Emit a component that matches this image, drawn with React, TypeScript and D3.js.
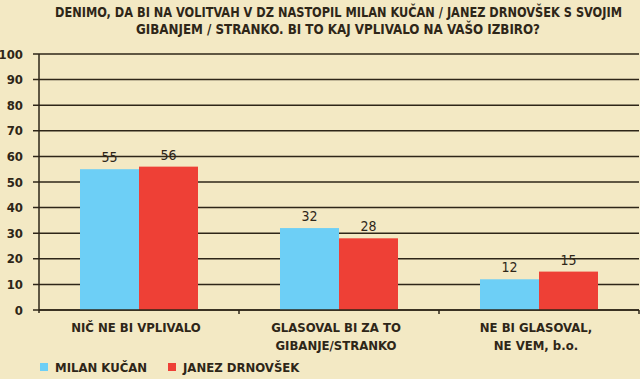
import React from "react";
import * as d3 from "d3";

const title1 = "DENIMO, DA BI NA VOLITVAH V DZ NASTOPIL MILAN KUČAN / JANEZ DRNOVŠEK S SVOJIM";
const title2 = "GIBANJEM / STRANKO. BI TO KAJ VPLIVALO NA VAŠO IZBIRO?";
const categories = ["c1", "c2", "c3"];
const categoryLabels = [["NIČ NE BI VPLIVALO"], ["GLASOVAL BI ZA TO", "GIBANJE/STRANKO"], ["NE BI GLASOVAL,", "NE VEM, b.o."]];
const seriesNames = ["MILAN KUČAN", "JANEZ DRNOVŠEK"];
const kucan = [55, 32, 12];
const drnovsek = [56, 28, 15];
const yTicks = [0, 10, 20, 30, 40, 50, 60, 70, 80, 90, 100];
const colors = ["#6dcff6", "#ee4036"];

const W = 640, H = 379;
const left = 39, right = 639, top = 54, bottom = 310;
const FONT = "'DejaVu Sans Condensed', 'DejaVu Sans', sans-serif";
const INK = "#2e2618";
const SX = 0.9;

export default function App() {
  const x = d3.scaleBand<string>().domain(categories).range([left, right]).paddingInner(0).paddingOuter(0);
  const y = d3.scaleLinear().domain([0, 100]).range([bottom, top]);
  const inner = d3.scaleBand<number>().domain([0, 1]).range([0, 118]);
  const series = [kucan, drnovsek];
  return (
    <svg width={W} height={H} style={{ position: "absolute", left: 0, top: 0, display: "block" }}>
      <rect width={W} height={H} fill="#f3e9c4" />
      <g transform={`translate(338.5,17) scale(${SX},1)`}>
        <text x={0} y={0} textAnchor="middle" textLength={567 / SX} lengthAdjust="spacingAndGlyphs" fontFamily={FONT} fontWeight="bold" fontSize={14} fill={INK}>{title1}</text>
      </g>
      <g transform={`translate(338,34) scale(${SX},1)`}>
        <text x={0} y={0} textAnchor="middle" textLength={404 / SX} lengthAdjust="spacingAndGlyphs" fontFamily={FONT} fontWeight="bold" fontSize={14} fill={INK}>{title2}</text>
      </g>
      {yTicks.map((t) => (
        <g key={t}>
          <line x1={33} x2={right} y1={y(t)} y2={y(t)} stroke={INK} strokeWidth={1.5} />
          <text x={23} y={y(t) + 4.5} textAnchor="end" fontFamily={FONT} fontWeight="bold" fontSize={13} fill={INK}>{t}</text>
        </g>
      ))}
      {categories.map((c, i) => {
        const bx = (x(c) as number) + (x.bandwidth() - 118) / 2;
        return (
          <g key={c}>
            {series.map((s, j) => (
              <g key={j}>
                <rect x={bx + (inner(j) as number)} y={y(s[i])} width={inner.bandwidth()} height={bottom - y(s[i])} fill={colors[j]} />
                <text x={bx + (inner(j) as number) + inner.bandwidth() / 2} y={y(s[i]) - 7} textAnchor="middle" fontFamily={FONT} fontSize={14} fill={INK}>{s[i]}</text>
              </g>
            ))}
            {categoryLabels[i].map((l, k) => (
              <text key={k} x={(x(c) as number) + x.bandwidth() / 2 - 3} y={332 + k * 18} textAnchor="middle" fontFamily={FONT} fontWeight="bold" fontSize={13} fill={INK}>{l}</text>
            ))}
          </g>
        );
      })}
      <line x1={left} x2={right} y1={bottom} y2={bottom} stroke={INK} strokeWidth={1.5} />
      <line x1={left} x2={left} y1={top} y2={bottom + 3} stroke={INK} strokeWidth={1.5} />
      {[1, 2, 3].map((k) => (
        <line key={k} x1={left + k * 200} x2={left + k * 200} y1={bottom} y2={bottom + 4} stroke={INK} strokeWidth={1.5} />
      ))}
      {seriesNames.map((n, j) => (
        <g key={n} transform={`translate(${j === 0 ? 40 : 168},363)`}>
          <rect x={0} y={0} width={8} height={8} fill={colors[j]} />
          <text x={15} y={9} fontFamily={FONT} fontWeight="bold" fontSize={13} fill={INK}>{n}</text>
        </g>
      ))}
    </svg>
  );
}
